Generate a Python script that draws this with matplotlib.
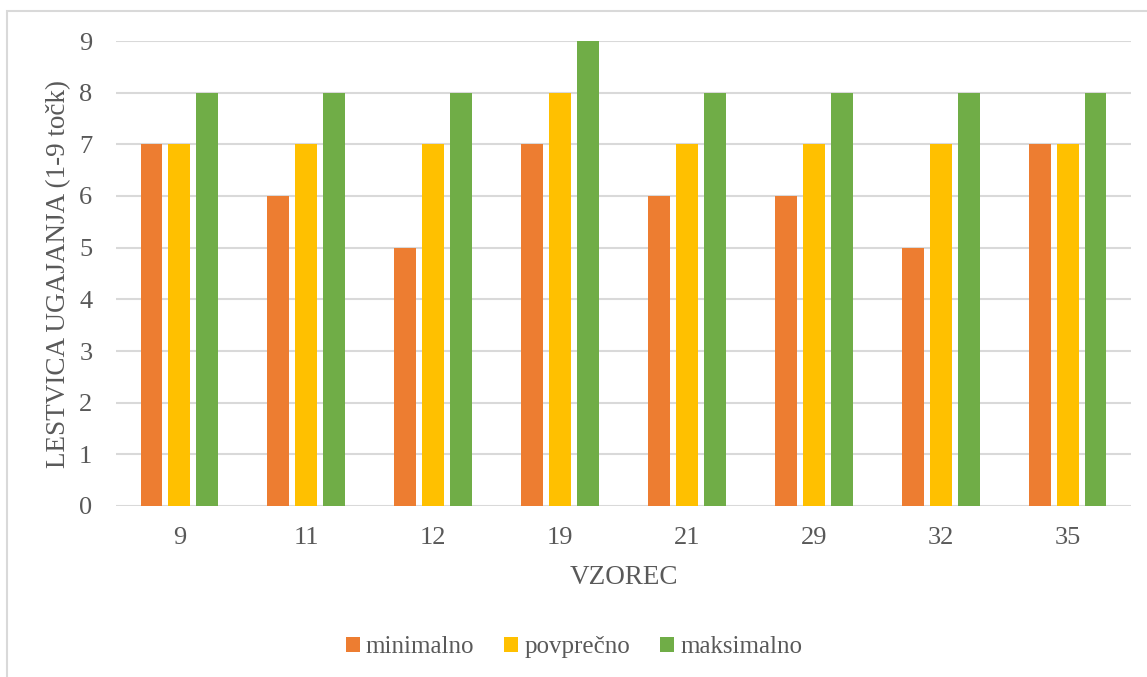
import numpy as np
import matplotlib.pyplot as plt
from matplotlib.patches import Rectangle

plt.rcParams['font.family'] = ['Liberation Serif', 'DejaVu Serif']

vzorci = ['9', '11', '12', '19', '21', '29', '32', '35']
minimalno = [7, 6, 5, 7, 6, 6, 5, 7]
povprecno = [7, 7, 7, 8, 7, 7, 7, 7]
maksimalno = [8, 8, 8, 9, 8, 8, 8, 8]

serije = [('minimalno', minimalno, '#ED7D31'),
          ('povprečno', povprecno, '#FFC000'),
          ('maksimalno', maksimalno, '#70AD47')]

grey = '#595959'
fig = plt.figure(figsize=(11.47, 6.77), dpi=100)
ax = fig.add_axes([116 / 1147, 1 - 506 / 677, (1131 - 116) / 1147, (506 - 41) / 677])

x = np.arange(len(vzorci))
w = 0.173
step = 0.22
for i, (name, vals, col) in enumerate(serije):
    ax.bar(x + (i - 1) * step, vals, w, color=col, label=name, zorder=3)

ax.set_xlim(-0.5, len(vzorci) - 0.5)
ax.set_ylim(0, 9)
ax.set_yticks(range(10))
ax.set_xticks(x)
ax.set_xticklabels(vzorci)
ax.tick_params(length=0, labelsize=19, colors=grey, pad=15)
ax.tick_params(axis='y', pad=17)
ax.grid(axis='y', color='#D9D9D9', lw=1.5, zorder=0)
for s in ax.spines.values():
    s.set_visible(False)

ax.set_xlabel('VZOREC', fontsize=19.5, color=grey, labelpad=12)
ax.set_ylabel('LESTVICA UGAJANJA (1-9 točk)', fontsize=19.5, color=grey, labelpad=6)

fig.legend(loc='center', bbox_to_anchor=(574 / 1147, 1 - 647 / 677), ncol=3, frameon=False,
           fontsize=18, labelcolor=grey, handlelength=0.55, handleheight=0.55,
           handletextpad=0.25, columnspacing=1.2)

fig.patches.append(Rectangle((7 / 1147, -0.1), 1.2, 1 - 11 / 677 + 0.1, transform=fig.transFigure,
                             fill=False, edgecolor='#D9D9D9', lw=1.5))

fig.savefig('out.png', dpi=100)
